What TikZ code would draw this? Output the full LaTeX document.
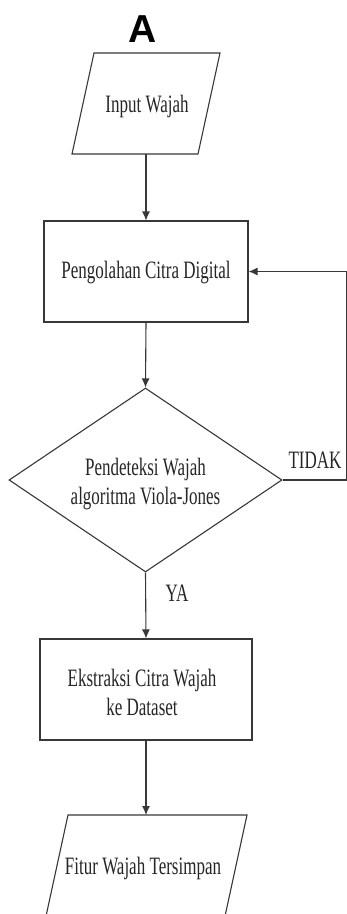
\documentclass[tikz,border=0pt]{standalone}
\usepackage{fontspec}
\setmainfont{Liberation Serif}[FakeStretch=0.68]
\newfontfamily\headfont{Liberation Sans}
\usetikzlibrary{shapes.geometric,arrows.meta}
\begin{document}
\begin{tikzpicture}[x=1pt,y=-1pt,
  boxline/.style={draw=black!78, line width=1.1pt},
  txt/.style={text=black!85, font=\fontsize{25}{29}\selectfont, align=center, inner sep=0pt},
  procbox/.style={boxline, rectangle, minimum height=101pt, inner sep=0pt},
  decbox/.style={boxline, diamond, minimum width=273pt, minimum height=184pt, inner sep=0pt},
  flow/.style={draw=black!78, line width=1.1pt, -{Latex[length=9pt,width=8pt]}},
  plain/.style={draw=black!78, line width=1.1pt}]
\useasboundingbox (0,0) rectangle (347,914);
\clip (0,0) rectangle (347,914);
\fill[white] (0,0) rectangle (347,914);

% label A
\node[inner sep=0pt, font=\headfont\bfseries\fontsize{39}{39}\selectfont] (lblA) at (143,29) {A};

% input parallelogram
\draw[boxline] (94,53) -- (220,53) -- (198,154) -- (72,154) -- cycle;
\node[txt] (inp) at (147,106) {Input Wajah};
\coordinate (inpB) at (146,154);

% processing
\node[procbox, minimum width=204pt] (proc) at (146,271.5) {};
\node[txt] (proct) at (146,273) {Pengolahan Citra Digital};

% decision
\node[decbox] (dec) at (145.5,480) {};
\node[txt] (dect) at (145.5,484) {Pendeteksi Wajah\\algoritma Viola-Jones};

% extraction
\node[procbox, minimum width=212pt] (ext) at (146,689.5) {};
\node[txt] (extt) at (142,692) {Ekstraksi Citra Wajah\\ke Dataset};

% output parallelogram
\draw[boxline] (68,815) -- (247,815) -- (222,930) -- (43,930) -- cycle;
\node[txt] (outt) at (143,868) {Fitur Wajah Tersimpan};
\coordinate (outT) at (146,815);

% labels
\node[txt] (tidak) at (315,460) {TIDAK};
\node[txt] (ya) at (177,593) {YA};

% connectors
\coordinate (fbA) at (346.5,480);
\coordinate (fbB) at (346.5,271.5);
\draw[flow] (inpB) -- (proc.north);
\draw[flow] (proc.south) -- (dec.north);
\draw[flow] (dec.south) -- (ext.north);
\draw[flow] (ext.south) -- (outT);
\draw[flow] (dec.east) -- (fbA) -- (fbB) -- (proc.east);
\end{tikzpicture}
\end{document}
